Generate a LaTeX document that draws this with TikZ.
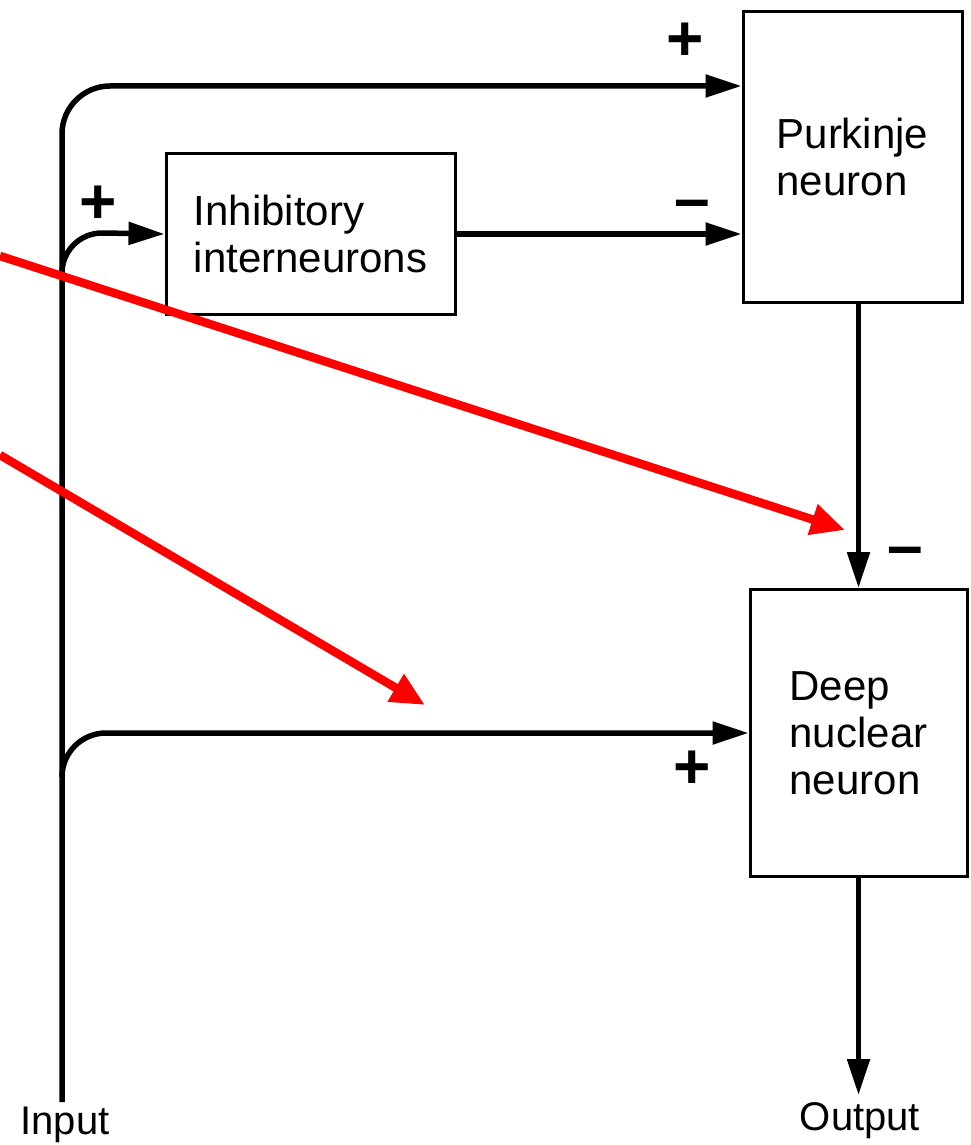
\documentclass[tikz,border=0pt]{standalone}
\usepackage{fontspec}
\setmainfont{Liberation Sans}
\usetikzlibrary{arrows.meta}
\begin{document}
\begin{tikzpicture}[x=1pt,y=-1pt,
  box/.style={draw, line width=3pt, align=left, inner sep=0pt,
    font=\fontsize{42}{47}\selectfont},
  wire/.style={line width=5.5pt, -{Triangle[length=36pt,width=22pt]}},
  sign/.style={font=\fontsize{64}{64}\selectfont\bfseries, inner sep=0pt},
  lbl/.style={font=\fontsize{40}{46}\selectfont, inner sep=0pt, anchor=base},
  redarrow/.style={draw=red, line width=8.5pt, -{Triangle[length=34pt,width=30pt]}}
]
\fill[white] (0,0) rectangle (970,1145);
\useasboundingbox (0,0) rectangle (970,1145);

% boxes
\node[box, minimum width=289pt, minimum height=161pt] (inh) at (310.5,234) {Inhibitory\\interneurons};
\node[box, minimum width=219pt, minimum height=290pt] (pk) at (852.5,157) {Purkinje\\neuron};
\node[box, minimum width=217pt, minimum height=287pt] (dn) at (858.5,733) {Deep\\nuclear\\neuron};

% coordinates
\coordinate (inb) at (62,1102);
\coordinate (tc) at (62,86);
\coordinate (b1) at (62,273);
\coordinate (b2) at (62,777);
\coordinate (outtip) at (858.5,1095);

% connectors
\draw[wire, rounded corners=48pt] (inb) -- (tc) -- (pk.west |- tc);
\draw[wire] (b1) arc[start angle=180, end angle=270, radius=40] -- (inh.west);
\draw[wire] (b2) arc[start angle=180, end angle=270, radius=44] -- (dn.west);
\draw[wire] (inh.east) -- (inh.east -| pk.west);
\draw[wire] (dn.north |- pk.south) -- (dn.north);
\draw[wire] (dn.south) -- (outtip);

% signs
\node[sign] (s1) at (685,42) {+};
\node[sign] (s2) at (692,210) {–};
\node[sign] (s3) at (98,205) {+};
\node[sign] (s4) at (905,557) {–};
\node[sign] (s5) at (692,770) {+};

% labels
\node[lbl] (inlbl) at (65,1134) {Input};
\node[lbl] (outlbl) at (860,1130) {Output};

% red arrows
\coordinate (r1s) at (0,256);
\coordinate (r1e) at (845,530);
\coordinate (r2s) at (0,455);
\coordinate (r2e) at (425,705);
\draw[redarrow] (r1s) -- (r1e);
\draw[redarrow] (r2s) -- (r2e);
\end{tikzpicture}
\end{document}
